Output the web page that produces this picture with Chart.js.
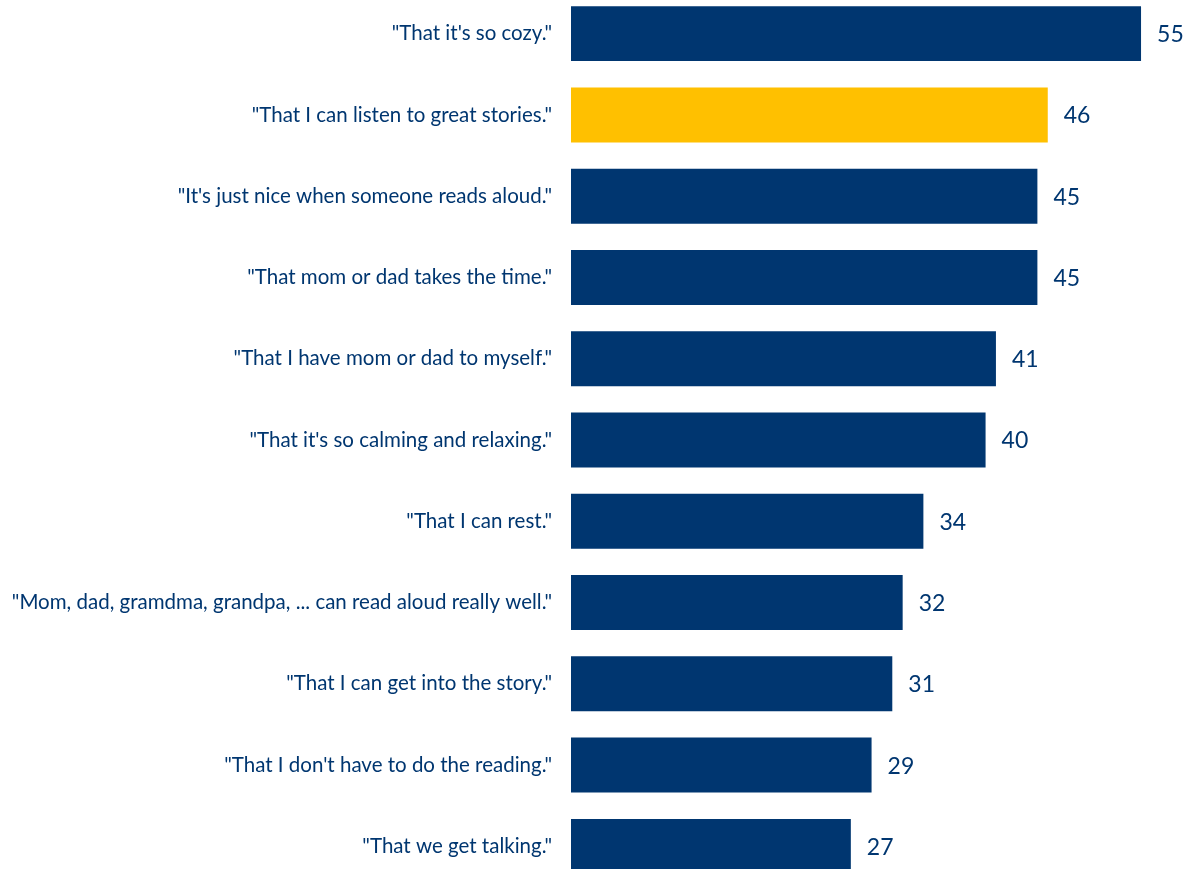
<!DOCTYPE html>
<html>
<head>
<meta charset="utf-8">
<script src="https://cdn.jsdelivr.net/npm/chart.js@4"></script>
<style>
  html, body { margin: 0; padding: 0; background: #fff; overflow: hidden; }
  #readingChart { position: absolute; left: 0; top: -7px; }
</style>
</head>
<body>
<canvas id="readingChart" width="1186" height="894"></canvas>
<script>
const categories = [
  '"That it\'s so cozy."',
  '"That I can listen to great stories."',
  '"It\'s just nice when someone reads aloud."',
  '"That mom or dad takes the time."',
  '"That I have mom or dad to myself."',
  '"That it\'s so calming and relaxing."',
  '"That I can rest."',
  '"Mom, dad, gramdma, grandpa, ... can read aloud really well."',
  '"That I can get into the story."',
  '"That I don\'t have to do the reading."',
  '"That we get talking."'
];
const shares = [55, 46, 45, 45, 41, 40, 34, 32, 31, 29, 27];
const highlightIndex = 1;

const NAVY = '#003670';
const GOLD = '#FFC000';
const FONT = 'Lato, "Open Sans", sans-serif';

// value labels right of each bar
const valueLabels = {
  id: 'valueLabels',
  afterDatasetsDraw(chart) {
    const { ctx } = chart;
    const meta = chart.getDatasetMeta(0);
    ctx.save();
    ctx.fillStyle = NAVY;
    ctx.font = '23px ' + FONT;
    ctx.textAlign = 'left';
    ctx.textBaseline = 'middle';
    meta.data.forEach((bar, i) => {
      ctx.fillText(String(shares[i]), bar.x + 16, bar.y + 1);
    });
    ctx.restore();
  }
};

const ctx = document.getElementById('readingChart').getContext('2d');
const readingChart = new Chart(ctx, {
  type: 'bar',
  data: {
    labels: categories,
    datasets: [{
      data: shares,
      backgroundColor: shares.map((v, i) => i === highlightIndex ? GOLD : NAVY),
      borderWidth: 0,
      categoryPercentage: 1,
      barPercentage: 0.676
    }]
  },
  options: {
    indexAxis: 'y',
    responsive: false,
    animation: false,
    layout: { padding: { left: 0, right: 3.5, top: 0, bottom: 0 } },
    plugins: {
      legend: { display: false },
      tooltip: { enabled: false }
    },
    scales: {
      x: {
        min: 0,
        max: 59,
        display: false
      },
      y: {
        afterFit(scale) {
          scale.width = 571;
          scale.paddingTop = 0;
          scale.paddingBottom = 0;
        },
        grid: { display: false, drawTicks: false },
        border: { display: false },
        ticks: {
          color: NAVY,
          padding: 19,
          font: { family: FONT, size: 20.5 }
        }
      }
    }
  },
  plugins: [valueLabels]
});
</script>
</body>
</html>
